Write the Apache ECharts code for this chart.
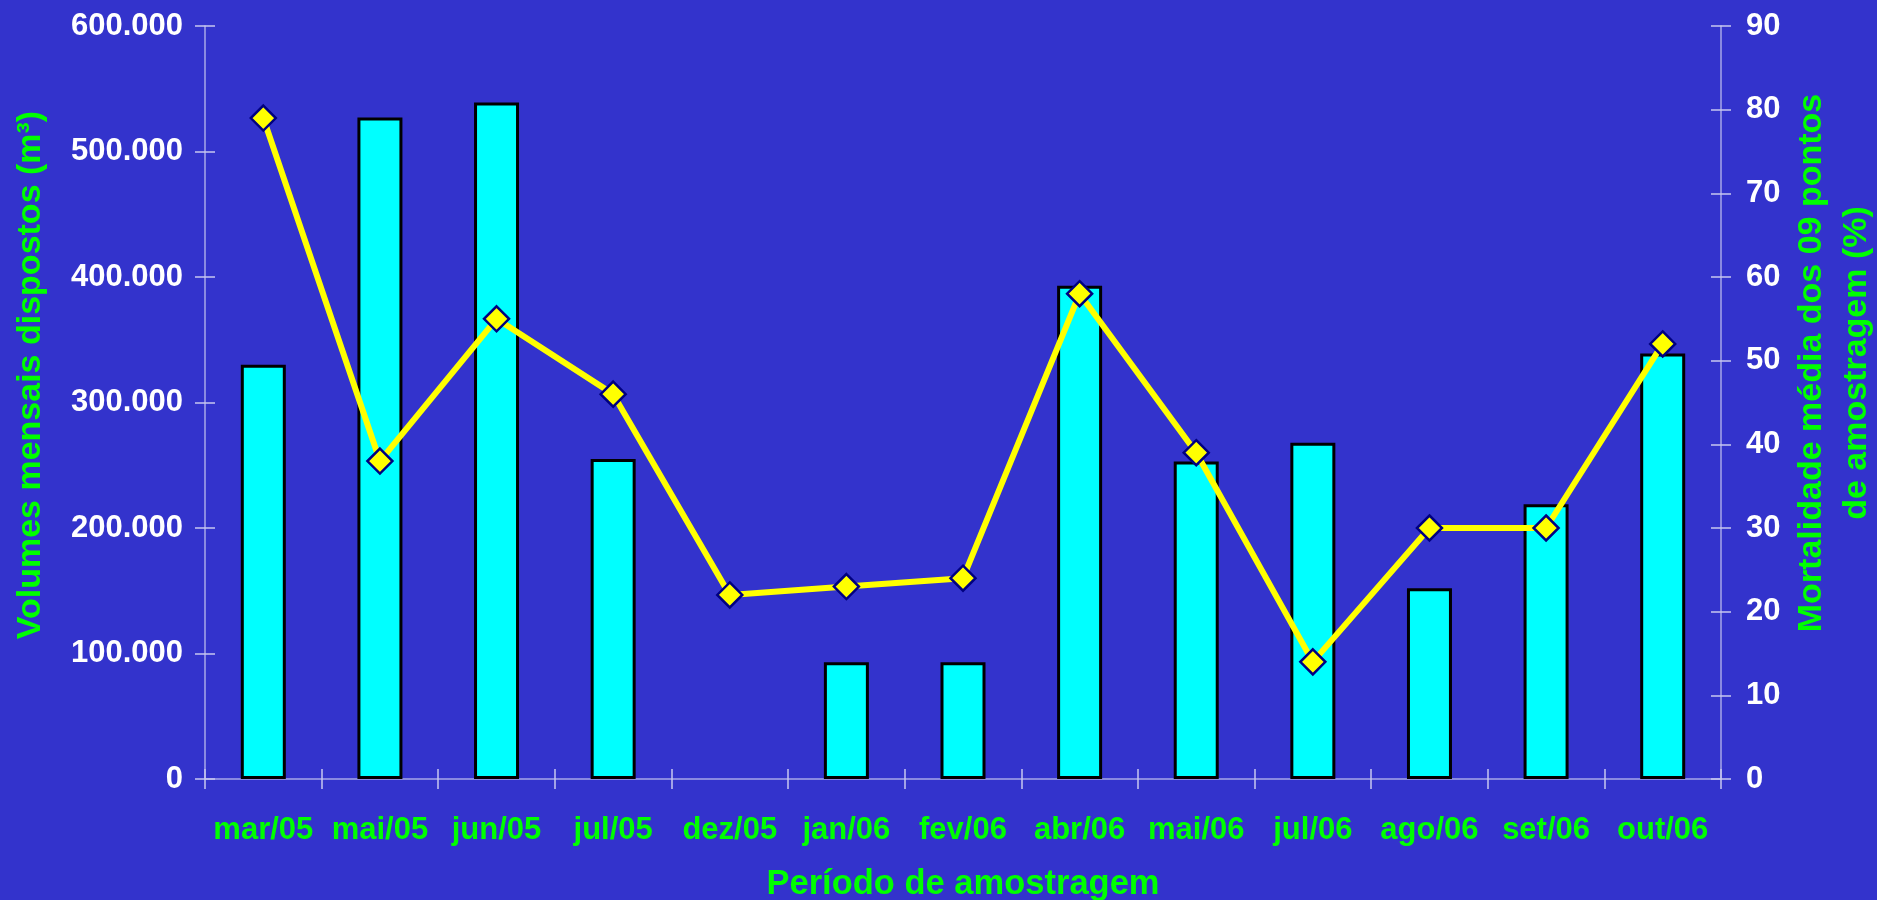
<!DOCTYPE html>
<html>
<head>
<meta charset="utf-8">
<script src="https://cdn.jsdelivr.net/npm/echarts@6/dist/echarts.min.js"></script>
<style>
html,body{margin:0;padding:0;background:#3333cc;}
#chart{width:1877px;height:900px;}
</style>
</head>
<body>
<div id="chart"></div>
<script>
const categories = ['mar/05','mai/05','jun/05','jul/05','dez/05','jan/06','fev/06','abr/06','mai/06','jul/06','ago/06','set/06','out/06'];
const volumes = [330000, 527000, 539000, 255000, null, 93000, 93000, 393000, 253000, 268000, 152000, 219000, 339000];
const mortality = [79, 38, 55, 46, 22, 23, 24, 58, 39, 14, 30, 30, 52];
const leftAxisName = 'Volumes mensais dispostos (m³)';
const rightAxisName = 'Mortalidade média dos 09 pontos\nde amostragem (%)';
const xAxisName = 'Período de amostragem';

const FONT = '"Liberation Sans", Arial, sans-serif';
const AX = '#a8a8e8';
const GREEN = '#00ff00';

function fmtThousands(v){
  return String(Math.round(v)).replace(/\B(?=(\d{3})+(?!\d))/g, '.');
}

const chart = echarts.init(document.getElementById('chart'));
const tickStyle = {color: '#c8c8f0', width: 1.5};
const option = {
  backgroundColor: '#3333cc',
  animation: false,
  grid: {left: 205, right: 156, top: 26, bottom: 121, containLabel: false, outerBoundsMode: 'none'},
  xAxis: [
    {
      type: 'category', data: categories, position: 'bottom',
      axisLine: {show: true, lineStyle: {color: AX, width: 1.5}},
      axisTick: {show: true, length: 10, lineStyle: tickStyle},
      axisLabel: {color: GREEN, fontWeight: 'bold', fontSize: 31, fontFamily: FONT, margin: 36, interval: 0},
      name: xAxisName, nameLocation: 'middle', nameGap: 88,
      nameTextStyle: {color: GREEN, fontWeight: 'bold', fontSize: 34.5, fontFamily: FONT}
    },
    {
      type: 'category', data: categories, position: 'bottom',
      axisLine: {show: false},
      axisTick: {show: true, inside: true, length: 10, lineStyle: tickStyle},
      axisLabel: {show: false}
    }
  ],
  yAxis: [
    {
      type: 'value', min: 0, max: 600000, interval: 100000, position: 'left',
      axisLine: {show: true, lineStyle: {color: AX, width: 1.5}},
      axisTick: {show: true, length: 10, lineStyle: tickStyle},
      axisLabel: {color: '#ffffff', fontWeight: 'bold', fontSize: 31, fontFamily: FONT, margin: 22, formatter: fmtThousands},
      splitLine: {show: false}
    },
    {
      type: 'value', min: 0, max: 90, interval: 10, position: 'right',
      axisLine: {show: true, lineStyle: {color: AX, width: 1.5}},
      axisTick: {show: true, length: 10, lineStyle: tickStyle},
      axisLabel: {color: '#ffffff', fontWeight: 'bold', fontSize: 31, fontFamily: FONT, margin: 25},
      splitLine: {show: false}
    },
    {
      type: 'value', min: 0, max: 600000, interval: 100000, position: 'left',
      axisLine: {show: false},
      axisTick: {show: true, inside: true, length: 10, lineStyle: tickStyle},
      axisLabel: {show: false}, splitLine: {show: false}
    },
    {
      type: 'value', min: 0, max: 90, interval: 10, position: 'right',
      axisLine: {show: false},
      axisTick: {show: true, inside: true, length: 10, lineStyle: tickStyle},
      axisLabel: {show: false}, splitLine: {show: false}
    }
  ],
  series: [
    {
      type: 'bar', data: volumes, xAxisIndex: 0, yAxisIndex: 0,
      barWidth: 45,
      itemStyle: {color: '#00ffff', borderColor: '#000000', borderWidth: 3},
      z: 2
    },
    {
      type: 'line', data: mortality, xAxisIndex: 0, yAxisIndex: 1,
      lineStyle: {color: '#ffff00', width: 6},
      symbol: 'diamond', symbolSize: [25, 25],
      itemStyle: {color: '#ffff00', borderColor: '#000080', borderWidth: 2.5},
      z: 5
    }
  ],
  graphic: [
    {
      type: 'text', x: 31, y: 375, rotation: Math.PI / 2,
      style: {text: leftAxisName, textAlign: 'center', textVerticalAlign: 'middle',
              fill: GREEN, font: 'bold 34px ' + FONT}
    },
    {
      type: 'text', x: 1834, y: 363, rotation: Math.PI / 2,
      style: {text: rightAxisName, textAlign: 'center', textVerticalAlign: 'middle',
              fill: GREEN, font: 'bold 34px ' + FONT, lineHeight: 45}
    }
  ]
};
chart.setOption(option);
</script>
</body>
</html>
